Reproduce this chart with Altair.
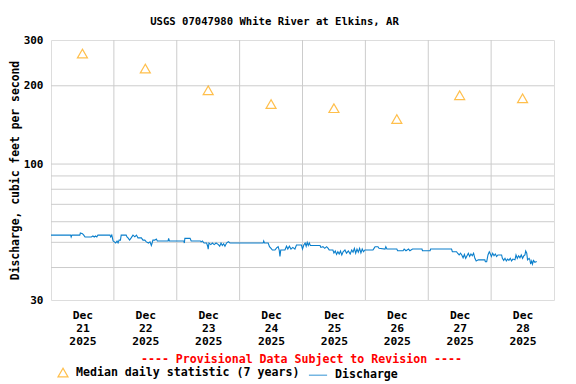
import altair as alt
import pandas as pd

title_text = "USGS 07047980 White River at Elkins, AR"
y_title = "Discharge, cubic feet per second"
x_title = "---- Provisional Data Subject to Revision ----"
series_median = "Median daily statistic (7 years)"
series_q = "Discharge"

median_days = ["2025-12-21", "2025-12-22", "2025-12-23", "2025-12-24",
               "2025-12-25", "2025-12-26", "2025-12-27", "2025-12-28"]
median_cfs = [266, 233, 192, 170, 164, 149, 184, 179]

# hours after 2025-12-21 00:00 and discharge (cfs)
q_hours = [
    0, 7.5, 7.7, 8.0, 11.0, 11.2, 12.0, 12.5, 13.0, 15.4, 16.0, 16.5, 17.0, 17.5, 17.9, 22.5, 22.8, 23.2,
    23.7, 24.2, 24.7, 25.2, 25.6, 26.0, 26.5, 26.8, 28.7, 29.0, 29.4, 30.0, 30.6, 31.3, 32.0, 32.6, 33.2,
    34.5, 35.1, 35.8, 36.4, 37.2, 37.8, 38.3, 38.6, 38.9, 39.6, 40.2, 40.6, 44.7, 44.9, 45.2,
    50.7, 50.9, 51.1, 53.1, 53.5, 57.0, 57.3, 57.8, 58.4, 59.4, 59.8, 60.0, 60.3, 61.0, 61.6, 62.3, 63.0,
    63.9, 64.4, 64.9, 65.4, 65.9, 66.4, 67.0, 67.7, 68.3,
    81.0, 81.2, 81.5, 82.9, 83.4, 84.0, 84.5, 85.5, 86.1, 86.7, 87.1, 87.4, 87.7, 89.3, 89.9, 90.4, 91.0,
    91.6, 92.3, 93.1, 93.7, 95.6, 96.0, 96.5, 97.0, 97.4, 97.8, 98.2, 98.6, 99.0,
    102.7, 103.0, 103.8, 104.5, 105.2, 105.8, 106.2, 107.6, 108.0, 108.5, 109.0, 109.5, 110.0, 110.5,
    111.0, 111.5, 112.2, 112.8, 113.5, 114.2, 114.8, 115.3, 115.8, 116.3, 116.8, 117.3, 117.8, 118.3,
    118.8, 119.3, 119.8,
    122.9, 123.3, 123.7, 124.8, 125.2, 127.5, 127.8, 128.2, 132.0, 132.3, 134.4, 134.8, 135.5, 136.5,
    137.0, 138.0, 141.6, 141.8, 144.7, 144.9,
    152.9, 153.2, 154.8, 155.2, 155.8, 156.3, 156.8, 157.3, 157.8, 158.3, 158.8, 159.3, 159.8, 160.3,
    160.8, 161.3, 161.8, 162.3, 163.1, 165.6, 165.8, 166.3, 166.8, 167.3, 167.6, 168.1, 168.6, 169.1,
    169.6, 170.1, 170.6, 172.0, 172.3, 172.8, 173.3, 173.8, 174.3, 174.8, 175.3, 175.8, 176.3, 177.1,
    177.5, 178.0, 178.5, 179.0, 179.5, 180.0, 180.5, 180.9, 181.2, 181.6, 181.9, 182.5, 182.8, 183.1,
    183.5, 183.8, 184.2, 184.7, 185.4,
]
q_cfs = [
    53.3, 53.3, 52.4, 53.3, 53.3, 54.3, 54.0, 53.3, 52.4, 52.4, 52.9, 52.4, 52.9, 52.4, 53.3, 53.3, 52.4, 53.3,
    50.6, 50.2, 49.7, 50.6, 49.7, 51.0, 51.0, 53.3, 53.3, 52.4, 52.0, 51.0, 52.0, 53.3, 52.5, 53.3, 52.0,
    52.0, 51.0, 51.0, 50.2, 49.7, 50.2, 48.6, 49.7, 51.0, 51.0, 51.5, 50.6, 50.6, 51.8, 50.6,
    50.6, 49.7, 51.8, 51.8, 50.6, 50.6, 50.2, 50.6, 49.7, 49.7, 48.3, 47.1, 49.7, 49.0, 49.7, 49.0, 49.7,
    49.0, 48.3, 49.7, 48.6, 49.4, 48.3, 49.7, 50.3, 49.7,
    49.7, 50.6, 49.7, 49.7, 48.1, 47.4, 46.7, 46.7, 47.6, 48.1, 46.7, 44.1, 46.7, 46.7, 48.3, 47.1, 48.3,
    47.1, 47.8, 47.1, 48.8, 48.8, 47.1, 48.8, 49.7, 48.3, 50.0, 48.6, 49.7, 48.6,
    48.6, 47.8, 48.1, 47.4, 48.1, 47.4, 46.7, 46.7, 45.5, 46.3, 44.9, 46.0, 45.1, 46.3,
    44.7, 46.0, 46.7, 45.4, 46.3, 45.1, 46.7, 45.8, 47.4, 45.4, 47.1, 45.8, 47.4, 45.5,
    47.1, 46.0, 46.7,
    46.7, 47.4, 48.1, 48.1, 47.4, 47.1, 48.1, 47.1, 47.1, 46.4, 46.4, 47.1, 46.4, 47.1,
    46.4, 47.1, 47.1, 46.4, 46.4, 47.1,
    47.1, 46.0, 46.0, 45.4, 44.7, 45.4, 44.7, 43.6, 44.9, 43.4, 44.4, 45.4, 44.1, 45.1,
    44.4, 45.4, 43.4, 42.4, 42.8, 42.8, 42.1, 42.1, 44.7, 46.0, 45.4, 44.1, 45.4, 44.4,
    45.1, 44.1, 44.7, 44.7, 43.4, 42.6, 43.4, 42.4, 43.1, 42.6, 43.4, 42.4, 43.1, 42.8,
    44.7, 43.4, 44.4, 43.6, 44.7, 43.4, 44.4, 44.7, 46.3, 45.4, 42.8, 43.4, 42.8, 41.2,
    42.4, 41.2, 42.6, 41.9, 42.2,
]

grid_days = ["2025-12-22", "2025-12-23", "2025-12-24", "2025-12-25",
             "2025-12-26", "2025-12-27", "2025-12-28"]
grid_cfs = [40, 50, 60, 70, 80, 90, 100, 200]
y_ticks = [30, 100, 200, 300]

FONT = "DejaVu Sans Mono"
ORANGE = "#FFA500"
BLUE = "#0A7FCC"
GRID = "#CCCCCC"

base_time = pd.Timestamp("2025-12-21T00:00:00")
q_df = pd.DataFrame({
    "time": (base_time + pd.to_timedelta(q_hours, unit="h")).strftime("%Y-%m-%dT%H:%M:%SZ"),
    "cfs": q_cfs,
    "series": series_q,
})
med_df = pd.DataFrame({
    "time": [d + "T12:00:00Z" for d in median_days],
    "cfs": median_cfs,
    "series": series_median,
})
gx_df = pd.DataFrame({"time": [d + "T00:00:00Z" for d in grid_days]})
gy_df = pd.DataFrame({"cfs": grid_cfs})

x_scale = alt.Scale(type="utc", domain=[alt.DateTime(year=2025, month=12, date=21, utc=True),
                                        alt.DateTime(year=2025, month=12, date=29, utc=True)])
y_scale = alt.Scale(type="log", domain=[30, 300], nice=False)

tick_vals = [alt.DateTime(year=2025, month=12, date=int(d[-2:]), hours=12, utc=True) for d in median_days]

x_axis = alt.Axis(
    values=tick_vals, grid=False, ticks=False, domain=False,
    labelExpr="[utcFormat(datum.value, '%b'), utcFormat(datum.value, '%d'), utcFormat(datum.value, '%Y')]",
    labelFont=FONT, labelFontWeight="bold", labelFontSize=11.3, labelColor="black",
    labelLineHeight=13, labelPadding=9, labelBaseline="top",
    title=x_title, titleFont=FONT, titleFontWeight="bold", titleFontSize=11.6,
    titleColor="#FF0000", titleY=53.5, titleX=250,
)
y_axis = alt.Axis(
    values=y_ticks, grid=False, ticks=False, domain=False,
    labelFont=FONT, labelFontWeight="bold", labelFontSize=11, labelColor="black",
    labelPadding=8,
    title=y_title, titleFont=FONT, titleFontWeight="bold", titleFontSize=11.4,
    titleColor="black", titleX=-33, titleY=130, titleBaseline="alphabetic",
)

gx = alt.Chart(gx_df).mark_rule(color=GRID, strokeWidth=1).encode(
    x=alt.X("time:T", scale=x_scale, axis=x_axis))
gy = alt.Chart(gy_df).mark_rule(color=GRID, strokeWidth=1).encode(
    y=alt.Y("cfs:Q", scale=y_scale, axis=y_axis))

color_scale = alt.Scale(domain=[series_median, series_q], range=[ORANGE, BLUE])
shape_scale = alt.Scale(domain=[series_median, series_q], range=["triangle-up", "stroke"])
size_scale = alt.Scale(domain=[series_median, series_q], range=[100, 330])
legend = alt.Legend(
    title=None, orient="none", legendX=6, legendY=325, direction="horizontal",
    labelFont=FONT, labelFontWeight="bold", labelFontSize=11.6, labelColor="black",
    symbolStrokeWidth=1.2, columnPadding=6, labelOffset=7, labelLimit=400,
)

line = alt.Chart(q_df).mark_line(strokeWidth=1.1, interpolate="linear").encode(
    x=alt.X("time:T", scale=x_scale),
    y=alt.Y("cfs:Q", scale=y_scale),
    color=alt.Color("series:N", scale=color_scale, legend=legend),
)
pts = alt.Chart(med_df).mark_point(filled=False, strokeWidth=1.2).encode(
    x=alt.X("time:T", scale=x_scale),
    y=alt.Y("cfs:Q", scale=y_scale),
    color=alt.Color("series:N", scale=color_scale, legend=legend),
    shape=alt.Shape("series:N", scale=shape_scale, legend=legend),
    size=alt.Size("series:N", scale=size_scale, legend=legend),
)

chart = alt.layer(gx, gy, line, pts).properties(
    width=503, height=260,
    title=alt.TitleParams(title_text, font=FONT, fontWeight="bold", fontSize=10.6,
                          color="black", dx=-28, offset=6),
    autosize=alt.AutoSizeParams(type="none"),
    padding={"left": 43, "top": 32, "right": 14, "bottom": 81},
).configure_view(stroke="black", strokeWidth=1).configure(background="white")

chart.save("out.html", embed_options={"renderer": "svg", "actions": False})
